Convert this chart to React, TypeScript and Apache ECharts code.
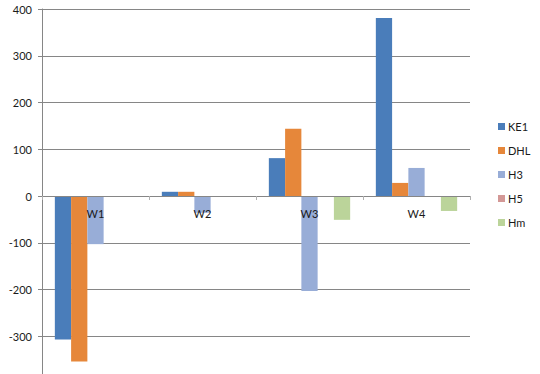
import React, { useEffect, useRef } from "react";
import * as echarts from "echarts";

const categories = ["W1", "W2", "W3", "W4"];
const seriesNames = ["KE1", "DHL", "H3", "H5", "Hm"];
const ke1 = [-307, 9, 81, 381];
const dhl = [-354, 9, 144, 28];
const h3 = [-103, -36, -203, 60];
const h5 = [0, 0, 0, 0];
const hm = [0, 0, -51, -32];
const yTicks = [-400, 400, 100];

const colors = ["#4A7DBA", "#E6873A", "#98ADD7", "#D39896", "#BBD49A"];

const W = 540;
const H = 374;
const GRID_TOP = 9;
const GRID_BOTTOM = -9;

export default function App() {
  const ref = useRef<HTMLDivElement>(null);
  useEffect(() => {
    if (!ref.current) return;
    const chart = echarts.init(ref.current, undefined, { renderer: "svg" });
    const values = [ke1, dhl, h3, h5, hm];
    const font = "Lato, 'Liberation Sans', sans-serif";
    const gridHeight = H - GRID_TOP - GRID_BOTTOM;
    const zeroOffset = -gridHeight * (0 - yTicks[0]) / (yTicks[1] - yTicks[0]);
    chart.setOption({
      animation: false,
      backgroundColor: "#ffffff",
      color: colors,
      textStyle: { fontFamily: font },
      grid: {
        left: 42,
        right: 70,
        top: GRID_TOP,
        bottom: GRID_BOTTOM,
        containLabel: false,
        outerBoundsMode: "none",
      },
      legend: {
        orient: "vertical",
        left: 493,
        top: 116,
        itemWidth: 7,
        itemHeight: 7,
        itemGap: 13,
        icon: "rect",
        textStyle: { fontSize: 11, color: "#1a1a1a", fontFamily: font, padding: [0, 0, 0, -2] },
        data: seriesNames,
      },
      xAxis: {
        type: "category",
        data: categories,
        position: "bottom",
        offset: zeroOffset,
        axisLine: { onZero: false, lineStyle: { color: "#868686", width: 1 } },
        axisTick: { show: true, length: 4, lineStyle: { color: "#b0b0b0" } },
        axisLabel: { color: "#1a1a1a", fontSize: 11, margin: 12, fontFamily: font },
        z: 10,
      },
      yAxis: {
        type: "value",
        min: yTicks[0],
        max: yTicks[1],
        interval: yTicks[2],
        axisLine: { show: true, onZero: false, lineStyle: { color: "#868686", width: 1 } },
        axisTick: { show: true, length: 4, lineStyle: { color: "#868686" } },
        splitLine: { show: true, lineStyle: { color: "#868686", width: 1 } },
        axisLabel: { color: "#1a1a1a", fontSize: 11, margin: 10, fontFamily: font, showMinLabel: false },
      },
      series: seriesNames.map((name, i) => ({
        name,
        type: "bar",
        data: values[i],
        barGap: "0%",
        barCategoryGap: "24%",
        z: 2,
      })),
    });
    return () => chart.dispose();
  }, []);
  return (
    <div
      ref={ref}
      style={{ position: "fixed", left: 0, top: 0, width: W, height: H }}
    />
  );
}
